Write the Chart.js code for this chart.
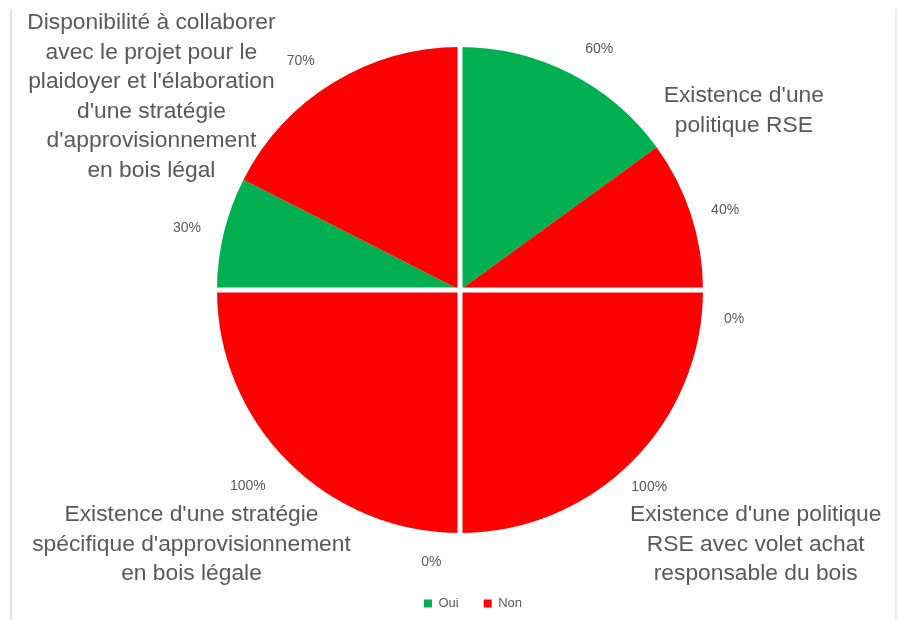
<!DOCTYPE html>
<html>
<head>
<meta charset="utf-8">
<script src="https://cdn.jsdelivr.net/npm/chart.js@4/dist/chart.umd.min.js"></script>
<style>
  html, body { margin: 0; padding: 0; background: #ffffff; }
  #wrap { position: relative; width: 900px; height: 620px; }
  #frame { position: absolute; left: 10px; top: 9px; width: 883px; height: 611px;
           border-left: 2px solid #e3e3e3; border-right: 2px solid #ececec; pointer-events: none; }
  canvas { display: block; }
</style>
</head>
<body>
<div id="wrap">
<canvas id="c" width="900" height="620"></canvas>
<div id="frame"></div>
</div>
<script>
// ---- data ----
const questions = [
  "Existence d'une politique RSE",
  "Existence d'une politique RSE avec volet achat responsable du bois",
  "Existence d'une stratégie spécifique d'approvisionnement en bois légale",
  "Disponibilité à collaborer avec le projet pour le plaidoyer et l'élaboration d'une stratégie d'approvisionnement en bois légal"
];
const questionLines = [
  ["Existence d'une", "politique RSE"],
  ["Existence d'une politique", "RSE avec volet achat", "responsable du bois"],
  ["Existence d'une stratégie", "spécifique d'approvisionnement", "en bois légale"],
  ["Disponibilité à collaborer", "avec le projet pour le", "plaidoyer et l'élaboration", "d'une stratégie", "d'approvisionnement", "en bois légal"]
];
const seriesNames = ["Oui", "Non"];
const ouiValues = [60, 0, 0, 30];
const nonValues = [40, 100, 100, 70];

// ---- styles ----
const seriesColors = ["#00b050", "#ff0000"];
const textColor = "#595959";
const fontFamily = '"Liberation Sans", Arial, sans-serif';
// label anchor offsets (in units of pie radius) for each question label
const questionLabelOffsets = [[1.168, -0.738], [1.217, 1.047], [-1.105, 1.047], [-1.270, -0.795]];
// percentage label placement tweaks (angle nudge in degrees, distance in radius units), per slice
const pctAngleNudge = [3, 1.3, 6, 1.2, 6, 2.2, -0.8, -3.3];
const pctDistance = [1.146, 1.139, 1.134, 1.125, 1.125, 1.19, 1.152, 1.148];

// build pie slices: each question gets one quarter, split Oui / Non
const sliceValues = [], sliceColors = [], sliceSeries = [], sliceQuestion = [];
questions.forEach((q, i) => {
  [ouiValues[i], nonValues[i]].forEach((v, s) => {
    sliceValues.push(v);
    sliceColors.push(seriesColors[s]);
    sliceSeries.push(s);
    sliceQuestion.push(i);
  });
});

const labelPlugin = {
  id: 'pieLabels',
  afterLayout(chart) {
    // legend sits a little right of the pie centre in the original
    if (chart.legend) { chart.legend.left += 13; chart.legend.right += 13; }
  },
  afterDatasetsDraw(chart) {
    const ctx = chart.ctx;
    const meta = chart.getDatasetMeta(0);
    const arcs = meta.data;
    const cx = arcs[0].x, cy = arcs[0].y, R = arcs[0].outerRadius;
    ctx.save();
    // white separators between questions (quarters)
    ctx.strokeStyle = '#ffffff';
    ctx.lineWidth = 5;
    arcs.forEach((a, i) => {
      if (sliceSeries[i] === 0) {
        ctx.beginPath();
        ctx.moveTo(cx, cy);
        ctx.lineTo(cx + Math.cos(a.startAngle) * (R + 3), cy + Math.sin(a.startAngle) * (R + 3));
        ctx.stroke();
      }
    });
    // percentage labels (outside end)
    ctx.fillStyle = textColor;
    ctx.font = '14px ' + fontFamily;
    ctx.textAlign = 'center';
    ctx.textBaseline = 'middle';
    arcs.forEach((a, i) => {
      const mid = (a.startAngle + a.endAngle) / 2 + pctAngleNudge[i] * Math.PI / 180;
      const r = R * pctDistance[i];
      ctx.fillText(sliceValues[i] + '%', cx + Math.cos(mid) * r, cy + Math.sin(mid) * r);
    });
    // question labels
    ctx.font = '22.8px ' + fontFamily;
    const lh = 29.5;
    questionLines.forEach((lines, q) => {
      const ox = cx + questionLabelOffsets[q][0] * R;
      const oy = cy + questionLabelOffsets[q][1] * R;
      const y0 = oy - (lines.length - 1) * lh / 2;
      lines.forEach((t, k) => ctx.fillText(t, ox, y0 + k * lh));
    });
    ctx.restore();
  }
};

new Chart(document.getElementById('c'), {
  type: 'pie',
  data: {
    labels: sliceValues.map((v, i) => questions[sliceQuestion[i]] + ' - ' + seriesNames[sliceSeries[i]]),
    datasets: [{
      data: sliceValues,
      backgroundColor: sliceColors,
      borderWidth: 0
    }]
  },
  options: {
    responsive: false,
    animation: false,
    layout: { padding: { top: 47, left: 20, right: 0, bottom: 0 } },
    plugins: {
      tooltip: { enabled: false },
      legend: {
        position: 'bottom',
        title: { display: true, text: '', font: { size: 10 }, padding: { top: 27, bottom: 0 } },
        labels: {
          boxWidth: 8,
          boxHeight: 8,
          padding: 25,
          color: textColor,
          font: { size: 13, family: fontFamily },
          generateLabels: () => seriesNames.map((n, s) => ({
            text: n, fillStyle: seriesColors[s], strokeStyle: seriesColors[s], fontColor: textColor,
            lineWidth: 0, hidden: false, index: s
          }))
        }
      }
    }
  },
  plugins: [labelPlugin]
});
</script>
</body>
</html>
